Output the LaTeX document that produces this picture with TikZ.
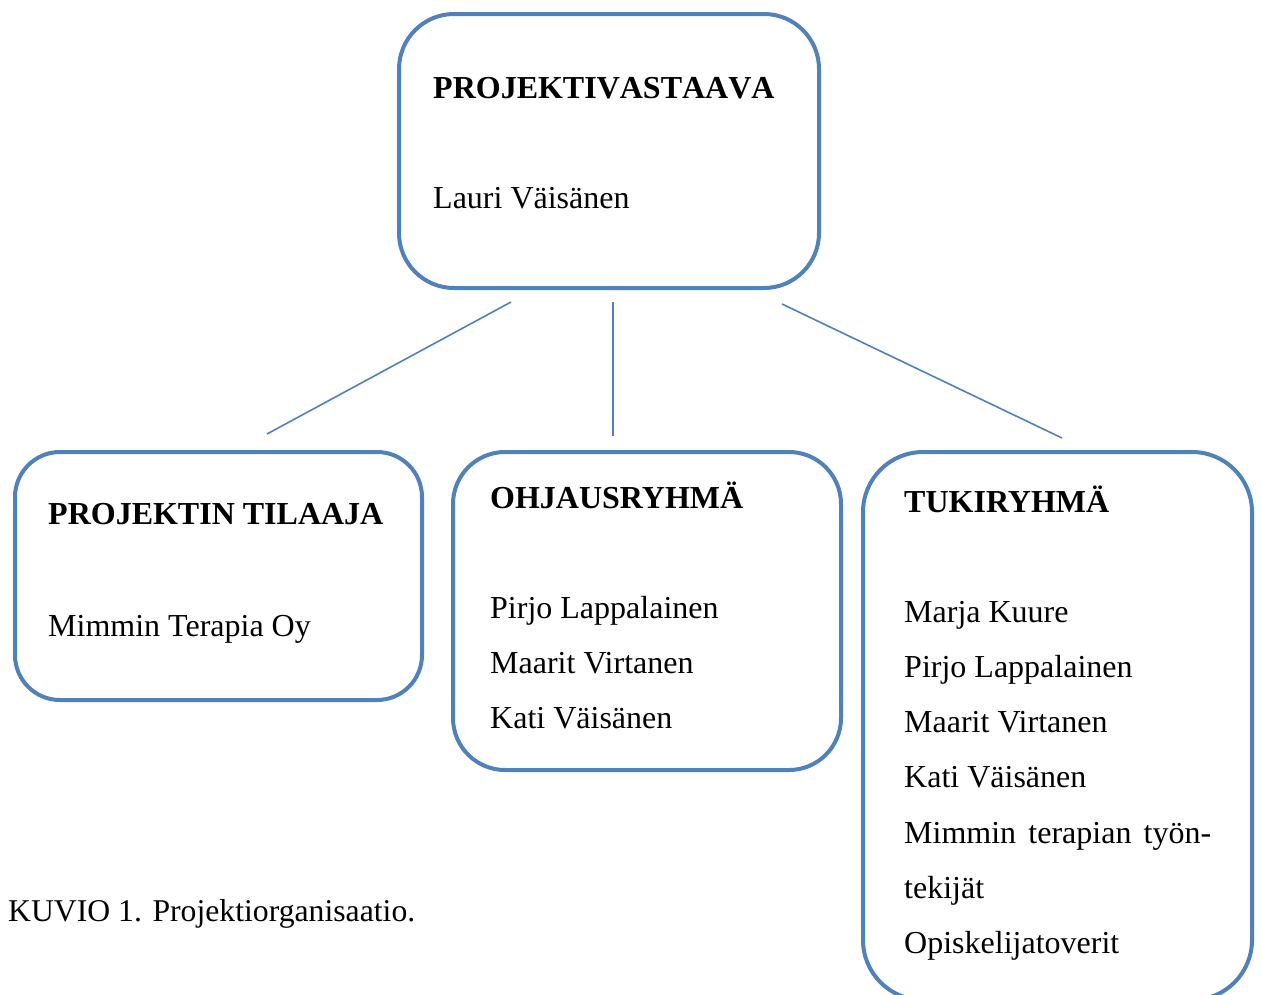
\documentclass[tikz,border=0pt]{standalone}
\usepackage{fontspec}
\setmainfont{Liberation Serif}
\definecolor{boxblue}{HTML}{4F81BD}
\tikzset{
  orgbox/.style={draw=boxblue, line width=4pt, rectangle, inner sep=0pt},
  link/.style={draw=boxblue, line width=1.6pt},
  txt/.style={anchor=base west, inner sep=0pt, font=\fontsize{32}{38}\selectfont},
  btxt/.style={txt, font=\fontsize{32}{38}\selectfont\bfseries}
}
\begin{document}
\begin{tikzpicture}[x=1pt,y=-1pt]
\useasboundingbox (0,0) rectangle (1261,994);
\begin{scope}
\clip (0,0) rectangle (1261,994);
% boxes
\node[orgbox, rounded corners=55pt, minimum width=420pt, minimum height=274pt] (top) at (609,151) {};
\node[orgbox, rounded corners=45pt, minimum width=407pt, minimum height=248pt] (left) at (218.5,576) {};
\node[orgbox, rounded corners=52pt, minimum width=388pt, minimum height=318pt] (mid) at (647,611) {};
\node[orgbox, rounded corners=60pt, minimum width=389pt, minimum height=548pt] (right) at (1057.5,726) {};
\end{scope}
% connector ends
\coordinate (t1) at (511,302);
\coordinate (l1) at (267,434);
\coordinate (t2) at (613,302);
\coordinate (m1) at (613,436);
\coordinate (t3) at (782,304);
\coordinate (r1) at (1062,438);
\draw[link] (t1) -- (l1);
\draw[link] (t2) -- (m1);
\draw[link] (t3) -- (r1);
% texts
\node[btxt] (topT) at (433,98) {\addfontfeatures{Kerning=Off}PROJEKTIVASTAAVA};
\node[txt] (topN) at (433,208) {Lauri Väisänen};
\node[btxt] (leftT) at (48,524) {PROJEKTIN TILAAJA};
\node[txt] (leftN) at (48,636) {Mimmin Terapia Oy};
\node[btxt] (midT) at (490,508) {OHJAUSRYHMÄ};
\node[txt] (mid1) at (490,618) {Pirjo Lappalainen};
\node[txt] (mid2) at (490,673) {Maarit Virtanen};
\node[txt] (mid3) at (490,728) {Kati Väisänen};
\node[btxt] (rightT) at (904,512) {TUKIRYHMÄ};
\node[txt] (r1t) at (904,622) {Marja Kuure};
\node[txt] (r2t) at (904,677) {Pirjo Lappalainen};
\node[txt] (r3t) at (904,732) {Maarit Virtanen};
\node[txt] (r4t) at (904,787) {Kati Väisänen};
\node[txt] (r5t) at (904,843) {\makebox[307pt][s]{Mimmin terapian työn-}};
\node[txt] (r6t) at (904,898) {tekijät};
\node[txt] (r7t) at (904,953) {Opiskelijatoverit};
\node[txt, font=\fontsize{31.7}{38}\selectfont] (cap) at (8,921) {KUVIO 1. Projektiorganisaatio.};
\end{tikzpicture}
\end{document}
